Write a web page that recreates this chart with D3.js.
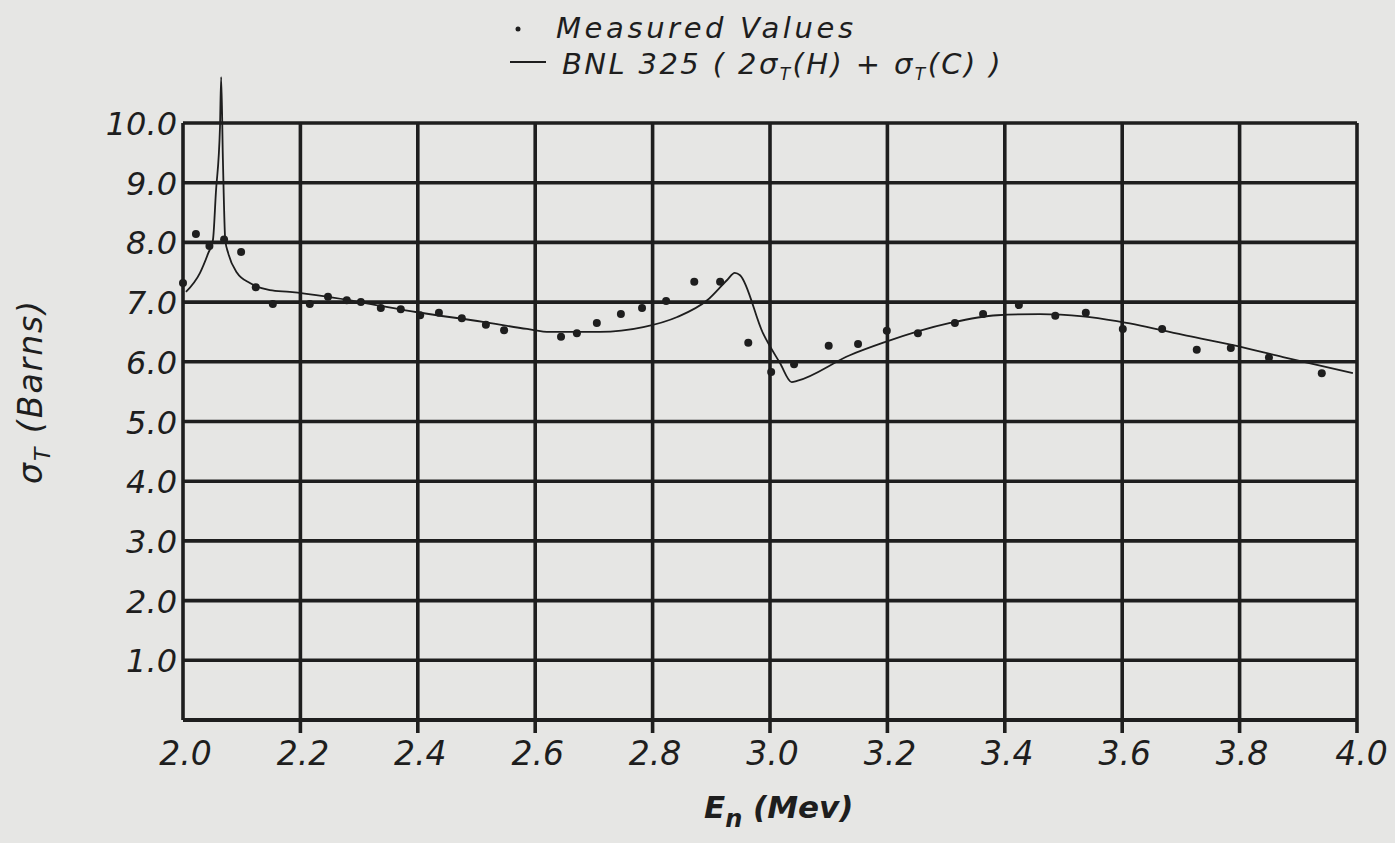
<!DOCTYPE html>
<html>
<head>
<meta charset="utf-8">
<script src="https://cdn.jsdelivr.net/npm/d3@7/dist/d3.min.js"></script>
<style>
  html, body { margin: 0; padding: 0; background: #e6e6e4; }
  svg { display: block; }
  text { font-family: "DejaVu Sans", sans-serif; font-style: italic; fill: #1e1e1e; }
</style>
</head>
<body>
<svg id="chart" width="1395" height="843"></svg>
<script>
// ---- Data ----
const xTicks = [2.0, 2.2, 2.4, 2.6, 2.8, 3.0, 3.2, 3.4, 3.6, 3.8, 4.0];
const xTickLabels = ["2.0", "2.2", "2.4", "2.6", "2.8", "3.0", "3.2", "3.4", "3.6", "3.8", "4.0"];
const yTicks = [1, 2, 3, 4, 5, 6, 7, 8, 9, 10];
const yTickLabels = ["1.0", "2.0", "3.0", "4.0", "5.0", "6.0", "7.0", "8.0", "9.0", "10.0"];

// Measured values (E in MeV, sigma_T in barns)
const measuredE = [2.0, 2.022, 2.045, 2.070, 2.099, 2.124, 2.153, 2.216, 2.247, 2.279, 2.303,
  2.337, 2.371, 2.404, 2.436, 2.475, 2.516, 2.547, 2.644, 2.671, 2.705, 2.746, 2.782, 2.823,
  2.871, 2.915, 2.963, 3.002, 3.041, 3.100, 3.150, 3.199, 3.252, 3.315, 3.363, 3.424, 3.486,
  3.538, 3.601, 3.668, 3.727, 3.785, 3.850, 3.940];
const measuredSigma = [7.32, 8.14, 7.94, 8.05, 7.84, 7.25, 6.97, 6.97, 7.09, 7.03, 7.00,
  6.90, 6.88, 6.78, 6.82, 6.73, 6.62, 6.53, 6.42, 6.48, 6.65, 6.80, 6.90, 7.02,
  7.34, 7.34, 6.32, 5.83, 5.96, 6.27, 6.30, 6.52, 6.48, 6.65, 6.80, 6.95, 6.77,
  6.82, 6.55, 6.55, 6.20, 6.23, 6.07, 5.81];

// BNL 325 curve (2 sigma_T(H) + sigma_T(C))
const curveE = [2.005, 2.029, 2.043, 2.051, 2.056, 2.063, 2.065, 2.068, 2.072, 2.077, 2.092,
  2.114, 2.148, 2.182, 2.245, 2.313, 2.399, 2.511, 2.586, 2.625, 2.710, 2.784, 2.842,
  2.893, 2.927, 2.940, 2.949, 2.988, 3.017, 3.037, 3.046, 3.136, 3.193, 3.307, 3.387,
  3.460, 3.533, 3.591, 3.704, 3.789, 3.874, 3.993];
const curveSigma = [7.17, 7.49, 7.82, 8.04, 8.83, 9.93, 10.77, 9.38, 8.04, 7.82, 7.49,
  7.32, 7.20, 7.17, 7.09, 6.98, 6.83, 6.67, 6.55, 6.50, 6.50, 6.58, 6.75,
  7.03, 7.37, 7.49, 7.45, 6.48, 5.98, 5.66, 5.68, 6.11, 6.32, 6.65, 6.78,
  6.80, 6.76, 6.68, 6.45, 6.28, 6.08, 5.81];

// ---- Chart ----
const svg = d3.select("#chart");
const ink = "#1e1e1e";
const x = d3.scaleLinear().domain([2.0, 4.0]).range([183, 1357]);
const y = d3.scaleLinear().domain([0, 10]).range([720, 123]);

const grid = svg.append("g");
// horizontal grid lines
grid.selectAll("line.h").data(yTicks).join("line")
  .attr("x1", x(2.0)).attr("x2", x(4.0))
  .attr("y1", d => y(d)).attr("y2", d => y(d))
  .attr("stroke", ink).attr("stroke-width", 3.6);
// vertical grid lines (extend slightly below axis as ticks)
grid.selectAll("line.v").data(xTicks).join("line")
  .attr("x1", d => x(d)).attr("x2", d => x(d))
  .attr("y1", y(10)).attr("y2", d => (d === 2.0 ? y(0) : y(0) + 13))
  .attr("stroke", ink).attr("stroke-width", 3.6);
// bottom axis line
grid.append("line")
  .attr("x1", x(2.0)).attr("x2", x(4.0))
  .attr("y1", y(0)).attr("y2", y(0))
  .attr("stroke", ink).attr("stroke-width", 4);

// x tick labels via axis
const xAxis = d3.axisBottom(x).tickValues(xTicks)
  .tickFormat((d, i) => xTickLabels[i]).tickSize(0).tickPadding(0);
const gx = svg.append("g").attr("transform", `translate(0,${y(0)})`).call(xAxis);
gx.select(".domain").remove();
gx.selectAll("text")
  .attr("y", 45).attr("dy", null)
  .attr("dx", d => d === 4.0 ? 4 : 2)
  .style("font-size", "33px").style("font-family", "DejaVu Sans, sans-serif")
  .style("font-style", "italic").attr("fill", ink);

// y tick labels via axis
const yAxis = d3.axisLeft(y).tickValues(yTicks)
  .tickFormat((d, i) => yTickLabels[i]).tickSize(0).tickPadding(0);
const gy = svg.append("g").attr("transform", `translate(${x(2.0) - 6},0)`).call(yAxis);
gy.select(".domain").remove();
gy.selectAll("text")
  .attr("dy", "0.36em")
  .style("font-size", "32px").style("font-family", "DejaVu Sans, sans-serif")
  .style("font-style", "italic").attr("fill", ink);

// BNL curve
const pts = curveE.map((e, i) => [e, curveSigma[i]]);
const line = d3.line().x(d => x(d[0])).y(d => y(d[1])).curve(d3.curveMonotoneX);
svg.append("path").attr("d", line(pts))
  .attr("fill", "none").attr("stroke", ink).attr("stroke-width", 1.8)
  .attr("stroke-linejoin", "round");

// measured points
svg.selectAll("circle.m").data(measuredE.map((e, i) => [e, measuredSigma[i]])).join("circle")
  .attr("cx", d => x(d[0])).attr("cy", d => y(d[1])).attr("r", 4)
  .attr("fill", ink);

// legend
svg.append("circle").attr("cx", 518).attr("cy", 29).attr("r", 2.5).attr("fill", ink);
svg.append("text").attr("x", 556).attr("y", 38)
  .style("font-size", "29px").style("letter-spacing", "3.6px").text("Measured Values");
svg.append("line").attr("x1", 510).attr("x2", 546).attr("y1", 62).attr("y2", 62)
  .attr("stroke", ink).attr("stroke-width", 2);
const lg = svg.append("text").attr("x", 562).attr("y", 74)
  .style("font-size", "29px").style("letter-spacing", "2.4px");
lg.append("tspan").text("BNL  325 ( 2");
lg.append("tspan").text("σ");
lg.append("tspan").attr("dy", 6).style("font-size", "17px").text("T");
lg.append("tspan").attr("dy", -6).text("(H) + ");
lg.append("tspan").text("σ");
lg.append("tspan").attr("dy", 6).style("font-size", "17px").text("T");
lg.append("tspan").attr("dy", -6).text("(C)  )");

// x axis title
const xt = svg.append("text").attr("x", 704).attr("y", 818).style("font-size", "31px").style("font-weight", "bold");
xt.append("tspan").text("E");
xt.append("tspan").attr("dy", 9).style("font-size", "24px").text("n");
xt.append("tspan").attr("dy", -9).text(" (Mev)");

// y axis title
const yt = svg.append("text")
  .attr("transform", "translate(42,484) rotate(-90)")
  .style("font-size", "33px").style("letter-spacing", "2px");
yt.append("tspan").text("σ");
yt.append("tspan").attr("dy", 8).style("font-size", "22px").text("T");
yt.append("tspan").attr("dy", -8).text(" (Barns)");
</script>
</body>
</html>
